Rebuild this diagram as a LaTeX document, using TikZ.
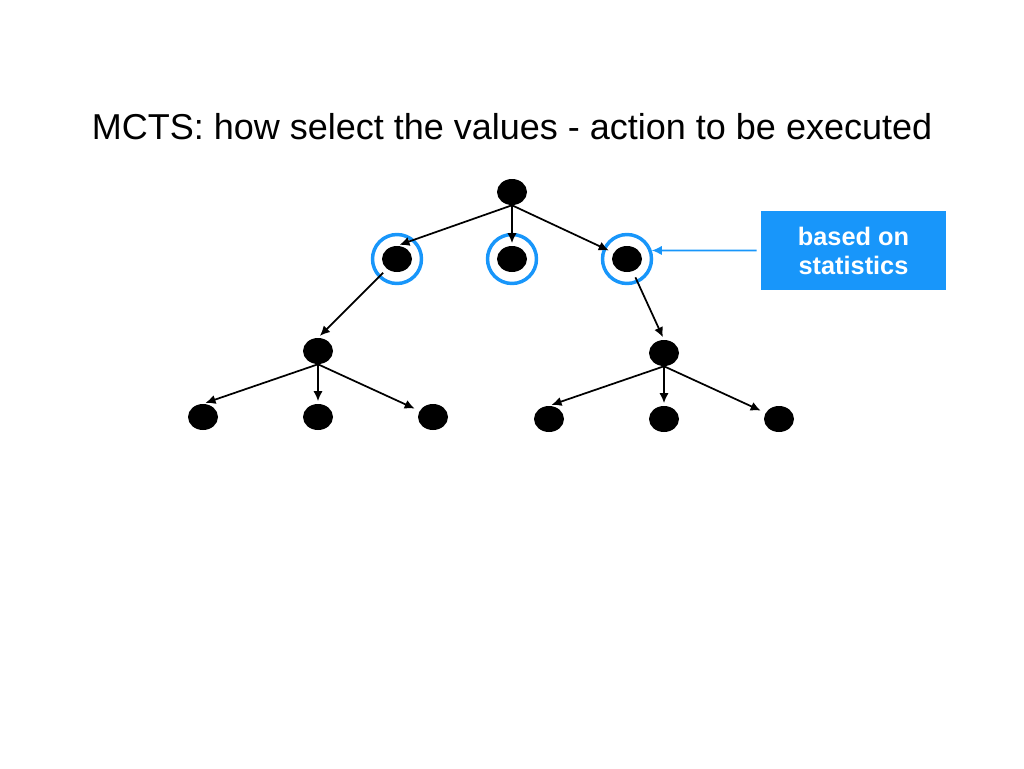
\documentclass[tikz,border=0pt]{standalone}
\usepackage{fontspec}
\setmainfont{Liberation Sans}
\usepackage{tikz}
\usetikzlibrary{arrows.meta,shapes,backgrounds}
\definecolor{statblue}{RGB}{24,150,250}

\begin{document}
\begin{tikzpicture}[x=0.75pt,y=-0.75pt]

    \tikzset{ST/.style={draw=black,line width=1.3pt,-{Latex[length=7.5pt,width=7pt]},shorten >=2pt}}
    \tikzset{SN/.style={ellipse,fill=black,inner sep=0mm,minimum width=22.5pt,minimum height=19.5pt}}
    \tikzset{RG/.style={circle,draw=statblue,line width=2.6pt,inner sep=0mm,minimum size=36.75pt}}
    \tikzset{BX/.style={fill=statblue,text=white,align=center,inner sep=0mm,minimum width=138.75pt,minimum height=59.25pt,font=\fontsize{19}{21.75}\selectfont\bfseries}}
    \tikzset{BA/.style={draw=statblue,line width=1.2pt,-{Latex[length=7.5pt,width=7pt]},shorten <=3pt}}

    \useasboundingbox (0,0) rectangle (1024,768);

    \node (title) [anchor=base,font=\fontsize{27}{32}\selectfont] at (512,139) {MCTS: how select the values - action to be executed};

    \node (0) [SN] at (512,192) {};
    	\node (1) [SN] at (397,259) {};
    	\node (2) [SN] at (512,259) {};
    	\node (3) [SN] at (627,259) {};
    		\node (4) [SN] at (318,351) {};
    			\node (41) [SN] at (203,417) {};
    			\node (42) [SN] at (318,417) {};
    			\node (43) [SN] at (433,417) {};
    		\node (5) [SN] at (664,353) {};
    			\node (51) [SN] at (549,419) {};
    			\node (52) [SN] at (664,419) {};
    			\node (53) [SN] at (779,419) {};

    \node (stat) [BX] at (853.5,250.5) {based on\\statistics};

    \begin{pgfonlayer}{background}
        \node (c1) [RG] at (397,259) {};
        \node (c2) [RG] at (512,259) {};
        \node (c3) [RG] at (627,259) {};
    \end{pgfonlayer}

    \path[ST] (0.south) -- (1.north);
    \path[ST] (0.south) -- (2.north);
    \path[ST,shorten >=4pt] (0.south) -- (3);
    	\path[ST,shorten <=4pt] (1) -- (4.north);
    	\path[ST,shorten <=5pt] (3) -- (5.north);
    		\path[ST] (4.south) -- (41.north);
    		\path[ST] (4.south) -- (42.north);
    		\path[ST,shorten >=4pt] (4.south) -- (43);
    		\path[ST] (5.south) -- (51.north);
    		\path[ST] (5.south) -- (52.north);
    		\path[ST,shorten >=4pt] (5.south) -- (53);

    \path[BA] (stat.west) -- (c3.19);
\end{tikzpicture}
\end{document}
